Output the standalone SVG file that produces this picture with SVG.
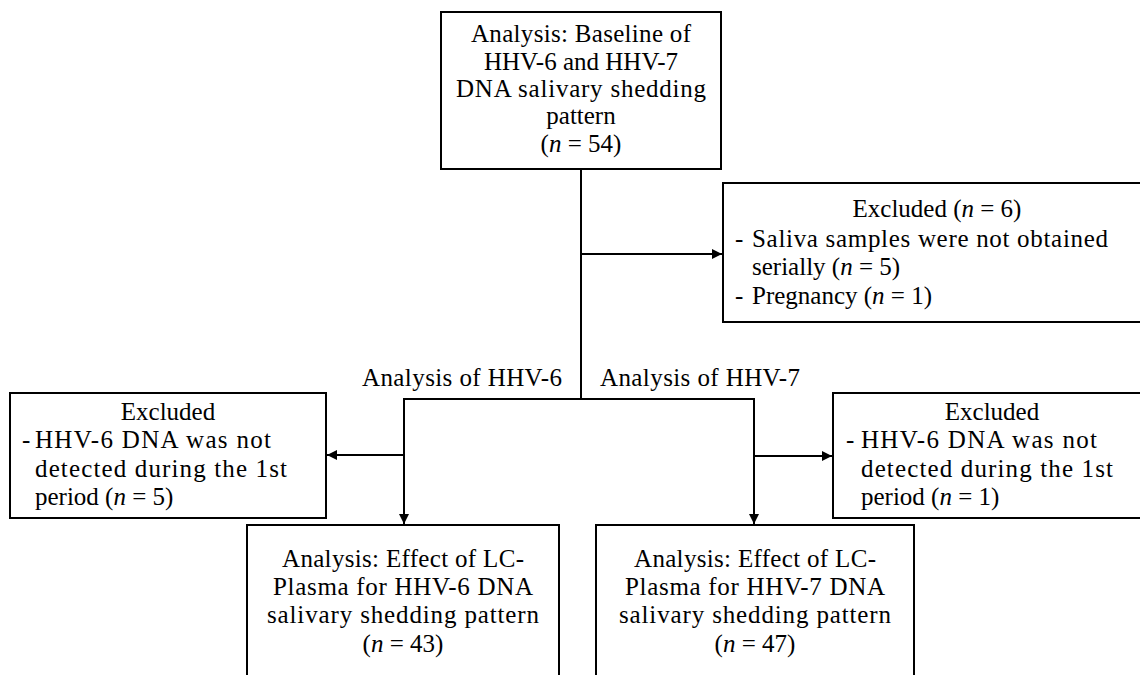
<svg xmlns="http://www.w3.org/2000/svg" width="1140" height="675" viewBox="0 0 1140 675">
<style>
.box{fill:#fff;stroke:#000;stroke-width:2}
.t{font-family:"Liberation Serif","Times New Roman",serif;font-size:25px;fill:#000}
.c{text-anchor:middle}
.i{font-style:italic}
.ln{stroke:#000;stroke-width:2;fill:none}
</style>
<defs>
<marker id="ah" viewBox="0 0 10 10" refX="10" refY="5" markerWidth="5" markerHeight="5" orient="auto" markerUnits="strokeWidth">
<path d="M0,0 L10,5 L0,10 z" fill="#000"/>
</marker>
</defs>
<rect width="1140" height="675" fill="#fff"/>
<g id="connectors">
<line class="ln" x1="581" y1="169" x2="581" y2="399"/>
<line class="ln" x1="581" y1="254" x2="722" y2="254" marker-end="url(#ah)"/>
<line class="ln" x1="403" y1="399" x2="755" y2="399"/>
<line class="ln" x1="404" y1="398" x2="404" y2="524" marker-end="url(#ah)"/>
<line class="ln" x1="404" y1="455" x2="327" y2="455" marker-end="url(#ah)"/>
<line class="ln" x1="754" y1="398" x2="754" y2="524" marker-end="url(#ah)"/>
<line class="ln" x1="754" y1="456" x2="832" y2="456" marker-end="url(#ah)"/>
</g>
<g id="baseline">
<rect class="box" x="441" y="12" width="280" height="157"/>
<text class="t c" x="581" y="42" textLength="220">Analysis: Baseline of</text>
<text class="t c" x="581" y="70">HHV-6 and HHV-7</text>
<text class="t c" x="581" y="97" textLength="250">DNA salivary  shedding</text>
<text class="t c" x="581" y="124">pattern</text>
<text class="t c" x="581" y="152">(<tspan class="i">n</tspan> = 54)</text>
</g>
<g id="excluded-top">
<rect class="box" x="723" y="183" width="430" height="139"/>
<text class="t c" x="937" y="217">Excluded (<tspan class="i">n</tspan> = 6)</text>
<text class="t" x="735" y="247">-</text>
<text class="t" x="752" y="247" textLength="356">Saliva samples were not obtained</text>
<text class="t" x="752" y="275">serially (<tspan class="i">n</tspan> = 5)</text>
<text class="t" x="735" y="304">-</text>
<text class="t" x="752" y="304">Pregnancy (<tspan class="i">n</tspan> = 1)</text>
</g>
<text class="t" x="362" y="386" textLength="200">Analysis of HHV-6</text>
<text class="t" x="600" y="386" textLength="200">Analysis of HHV-7</text>
<g id="excluded-hhv6">
<rect class="box" x="10" y="393" width="316" height="125"/>
<text class="t c" x="168" y="420">Excluded</text>
<text class="t" x="22" y="448">-</text>
<text class="t" x="35" y="448" textLength="236">HHV-6 DNA was not</text>
<text class="t" x="35" y="477" textLength="252">detected during  the 1st</text>
<text class="t" x="35" y="505">period (<tspan class="i">n</tspan> = 5)</text>
</g>
<g id="excluded-hhv7">
<rect class="box" x="833" y="393" width="320" height="125"/>
<text class="t c" x="992" y="420">Excluded</text>
<text class="t" x="846" y="448">-</text>
<text class="t" x="861" y="448" textLength="236">HHV-6 DNA was not</text>
<text class="t" x="861" y="477" textLength="252">detected during  the 1st</text>
<text class="t" x="861" y="505">period (<tspan class="i">n</tspan> = 1)</text>
</g>
<g id="effect-hhv6">
<rect class="box" x="247" y="525" width="312" height="170"/>
<text class="t c" x="403" y="567" textLength="242">Analysis: Effect of LC-</text>
<text class="t c" x="403" y="595" textLength="260">Plasma for HHV-6 DNA</text>
<text class="t c" x="403" y="623" textLength="272">salivary shedding pattern</text>
<text class="t c" x="403" y="652">(<tspan class="i">n</tspan> = 43)</text>
</g>
<g id="effect-hhv7">
<rect class="box" x="596" y="525" width="318" height="170"/>
<text class="t c" x="755" y="567" textLength="242">Analysis: Effect of LC-</text>
<text class="t c" x="755" y="595" textLength="260">Plasma for HHV-7 DNA</text>
<text class="t c" x="755" y="623" textLength="272">salivary shedding pattern</text>
<text class="t c" x="755" y="652">(<tspan class="i">n</tspan> = 47)</text>
</g>
</svg>
